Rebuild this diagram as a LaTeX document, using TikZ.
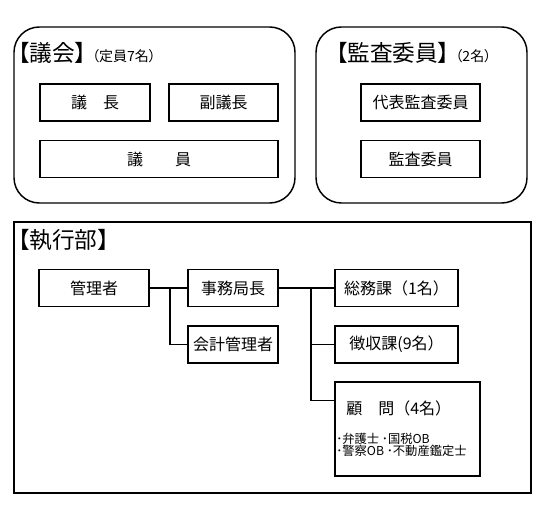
\documentclass[tikz,border=0pt]{standalone}
\usepackage{fontspec}
\setmainfont{Noto Sans CJK JP}
\newfontfamily\paltfont{Noto Sans CJK JP}[RawFeature=+palt]
\begin{document}
\begin{tikzpicture}[x=0.75pt,y=-0.75pt,
  box/.style={draw,line width=0.9pt,minimum height=27.75pt,inner sep=0pt,font=\fontsize{12}{14}\selectfont},
  frame/.style={line width=1.1pt},
  title/.style={inner sep=0pt,anchor=west,font=\paltfont\fontsize{17}{20}\selectfont},
  sub/.style={inner sep=0pt,anchor=base west,font=\paltfont\fontsize{10.5}{12}\selectfont},
  note/.style={inner sep=0pt,align=left,font=\fontsize{9.2}{9}\selectfont}]
\useasboundingbox (0,0) rectangle (556,509);
% council
\draw[frame,rounded corners=19pt] (14,27) rectangle (295,203);
\node[title] (gikai) at (18,53) {【議会】};
\node[sub] (teiin) at ([xshift=4pt]gikai.base east) {（定員7名）};
\node[box,minimum width=82.5pt] (gicho) at (95,102.5) {議　長};
\node[box,minimum width=81.75pt] (fukugicho) at (223.5,102.5) {副議長};
\node[box,minimum width=178.5pt] (giin) at (159,159) {議　　員};
% audit
\draw[frame,rounded corners=19pt] (316,27) rectangle (527,203);
\node[title] (kansa) at (336,53) {【監査委員】};
\node[sub] (kansanin) at ([xshift=4pt]kansa.base east) {（2名）};
\node[box,minimum width=89.25pt] (daihyo) at (420.5,102.5) {代表監査委員};
\node[box,minimum width=89.25pt] (iin) at (420.5,159) {監査委員};
% executive
\draw[frame] (14,222) rectangle (531,493);
\node[title] (shikko) at (18,240) {【執行部】};
\node[box,minimum width=82.5pt] (kanri) at (94,288) {管理者};
\node[box,minimum width=67.5pt] (jimu) at (233,288) {事務局長};
\node[box,minimum width=67.5pt] (kaikei) at (233,344.5) {会計管理者};
\node[box,minimum width=92.25pt] (somu) at (396.5,288) {総務課（1名）};
\node[box,minimum width=92.25pt] (choshu) at (396.5,344.5) {徴収課(9名）};
\node[box,minimum width=108.75pt,minimum height=70.5pt] (komon) at (407.5,429) {};
\node[inner sep=0pt,anchor=west,font=\fontsize{12}{14}\selectfont] (komontitle) at (346,408) {顧　問（4名）};
\node[note,anchor=north west] (komonlist) at (336,433) {･弁護士 ･国税OB\\･警察OB ･不動産鑑定士};
% connectors
\coordinate (j1) at (170,0);
\coordinate (j2) at (311,0);
\draw[line width=0.9pt] (kanri.east) -- (jimu.west);
\draw[line width=0.9pt] (j1 |- kanri.east) |- (kaikei.west);
\draw[line width=0.9pt] (jimu.east) -- (somu.west);
\draw[line width=0.9pt] (j2 |- somu.west) |- (choshu.west);
\draw[line width=0.9pt] (j2 |- choshu.west) |- ([yshift=-14.25pt]komon.north west);
\end{tikzpicture}
\end{document}
